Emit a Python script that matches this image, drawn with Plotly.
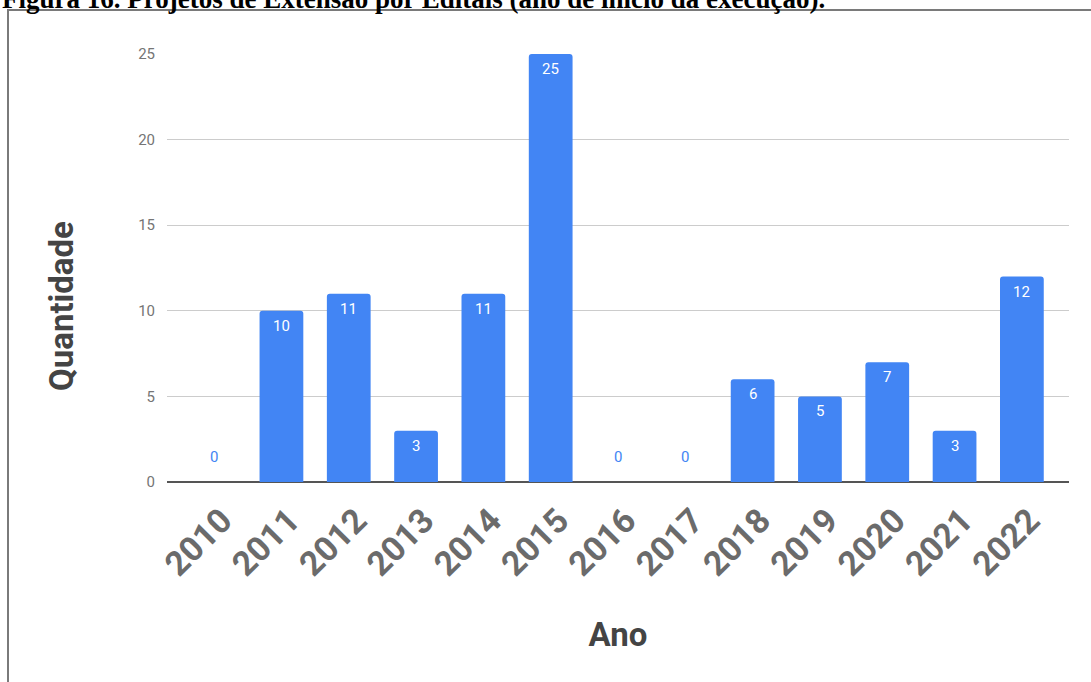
import plotly.graph_objects as go

anos = ["2010", "2011", "2012", "2013", "2014", "2015", "2016",
        "2017", "2018", "2019", "2020", "2021", "2022"]
quantidade = [0, 10, 11, 3, 11, 25, 0, 0, 6, 5, 7, 3, 12]
y_ticks = [0, 5, 10, 15, 20, 25]

titulo = "Figura 16. Projetos de Extensão por Editais (ano de início da execução)."

BLUE = "#4285f4"
W, H = 1091, 682
L, R, T, B = 167, 22, 54, 200
pw = W - L - R
ph = H - T - B

fig = go.Figure()
fig.add_trace(
    go.Bar(
        x=anos,
        y=quantidade,
        marker=dict(color=BLUE, cornerradius=3, line=dict(width=0)),
        hoverinfo="x+y",
    )
)

# value labels: white inside the bar, blue above the baseline when zero
# (category axis: annotations need the category index, not the label)
for i, q in enumerate(quantidade):
    fig.add_annotation(
        x=i, y=q, text=str(q), showarrow=False,
        yanchor="middle", yshift=-15 if q > 0 else 25,
        font=dict(family="Roboto", size=15, color="white" if q > 0 else BLUE),
    )

# figure caption, cut by the top of the page (as in the source), sits just above the frame
fig.add_annotation(
    xref="paper", yref="paper", x=(0 - L) / pw, y=1 + (T + 1) / ph,
    xanchor="left", yanchor="middle", showarrow=False,
    text=f"<b>{titulo}</b>",
    font=dict(family="Liberation Serif", size=27, color="black"),
)

# y title sits a bit below the middle of the plot in the source
fig.add_annotation(
    xref="paper", yref="paper", x=(61 - L) / pw, y=(H - B - 306) / ph,
    xanchor="center", yanchor="middle", showarrow=False, textangle=-90,
    text="Quantidade",
    font=dict(family="Roboto", size=33, color="#444444", weight="bold"),
)

# frame around the chart
fig.add_shape(
    type="rect", xref="paper", yref="paper",
    x0=(8 - L) / pw, x1=1 + (R + 10) / pw,
    y0=-(B + 20) / ph, y1=1 + (T - 10) / ph,
    line=dict(color="#7a7a7a", width=2),
)

fig.update_layout(
    width=W,
    height=H,
    margin=dict(l=L, r=R, t=T, b=B),
    plot_bgcolor="white",
    paper_bgcolor="white",
    showlegend=False,
    bargap=0.35,
    font=dict(family="Roboto"),
    xaxis=dict(
        type="category",
        range=[-0.7, 12.7],
        tickangle=-45,
        tickfont=dict(family="Roboto", size=34, color="#6b6b6b", weight="bold"),
        showgrid=False,
        showline=False,
        ticks="outside",
        ticklen=4,
        tickcolor="rgba(0,0,0,0)",
        ticklabelshift=8,
        title=dict(text="Ano", font=dict(family="Roboto", size=33, color="#444444", weight="bold"), standoff=40),
    ),
    yaxis=dict(
        range=[0, 25],
        tickvals=y_ticks,
        tickfont=dict(family="Roboto", size=15, color="#757575"),
        gridcolor="#cccccc",
        gridwidth=1,
        zeroline=True,
        zerolinecolor="#555555",
        zerolinewidth=2,
        ticks="outside",
        ticklen=8,
        tickcolor="rgba(0,0,0,0)",
    ),
)

# drop the default 8px page margin so the figure sits at the window corner
fig.write_html(
    "out.html",
    config={"displayModeBar": False},
    post_script="document.body.style.margin='0';",
)
